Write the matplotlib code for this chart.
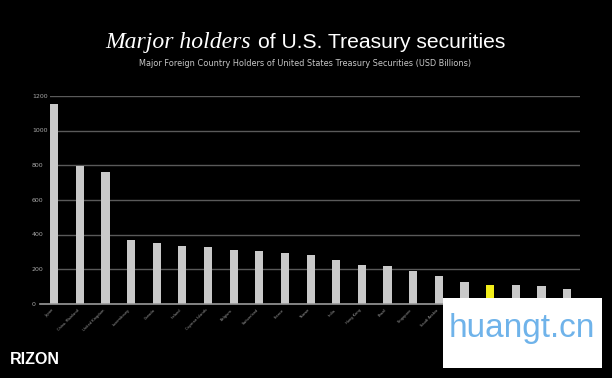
import numpy as np
import matplotlib.pyplot as plt
from matplotlib.patches import Rectangle
import matplotlib.transforms as mtransforms

# holders of US treasuries, USD billions
countries = ['Japan', 'China, Mainland', 'United Kingdom', 'Luxembourg', 'Canada',
             'Ireland', 'Cayman Islands', 'Belgium', 'Switzerland', 'France',
             'Taiwan', 'India', 'Hong Kong', 'Brazil', 'Singapore',
             'Saudi Arabia', 'Korea, South', 'Norway', 'Germany', 'Mexico', 'Israel']
holdings = [1154, 796, 763, 369, 352, 336, 326, 312, 303, 294,
            280, 254, 225, 219, 193, 160, 129, 110, 111, 104, 88]
highlight = 'Norway'

yticks = [0, 200, 400, 600, 800, 1000, 1200]

BG = 'black'
BAR = '#c9c9c9'
GRID = '#5a5a5a'

fig = plt.figure(figsize=(6.12, 3.78), dpi=100, facecolor=BG)
ax = fig.add_axes([50/612, 1 - 304/378, 530/612, 208/378], facecolor=BG)

x = np.arange(len(countries))
colors = ['#f2ee1a' if c == highlight else BAR for c in countries]
ax.bar(x, holdings, width=0.32, color=colors, zorder=3)

ax.set_ylim(0, 1200)
ax.set_xlim(-0.16, len(countries) - 0.5)
ax.set_yticks([])
# y labels are left-aligned at the figure edge side
trans = mtransforms.blended_transform_factory(fig.transFigure, ax.transData)
for v in yticks:
    ax.text(32/612, v, str(v), transform=trans, fontsize=4.5, color='#a8a8a8',
            ha='left', va='center')
for v in yticks[1:]:
    ax.axhline(v, color=GRID, lw=1, zorder=1)
ax.plot([-0.55, len(countries) - 0.5], [0, 0], color='#9a9a9a', lw=1.2,
        zorder=4, clip_on=False)

ax.set_xticks(x)
ax.set_xticklabels(countries, rotation=45, ha='right', va='top',
                   fontsize=2.6, color='#a0a0a0')
ax.tick_params(axis='x', length=0, pad=3)
for s in ax.spines.values():
    s.set_visible(False)

# title: italic serif part + sans part
fig.text(105/612, 1 - 48/378, 'Marjor holders', fontsize=17, family='Liberation Serif',
         style='italic', color='white', va='baseline')
fig.text(258/612, 1 - 48/378, 'of U.S. Treasury securities', fontsize=15.2,
         family='Liberation Sans', color='white', va='baseline')
fig.text(305/612, 1 - 64/378, 'Major Foreign Country Holders of United States Treasury Securities (USD Billions)',
         fontsize=5.85, color='#c8c8c8', ha='center', va='center')

fig.text(10/612, 1 - 364/378, 'RIZON', fontsize=11.5, fontweight='bold', color='white',
         family='Liberation Sans', va='baseline')

# watermark box
fig.patches.append(Rectangle((443/612, 1 - 368/378), 159/612, 70/378,
                             transform=fig.transFigure, facecolor='white',
                             edgecolor='none', zorder=10))
fig.text(522/612, 1 - 329/378, 'huangt.cn', fontsize=24, color='#6fb3ea',
         ha='center', va='center', family='Liberation Sans', zorder=11)

fig.savefig('out.png', dpi=100, facecolor=BG)
